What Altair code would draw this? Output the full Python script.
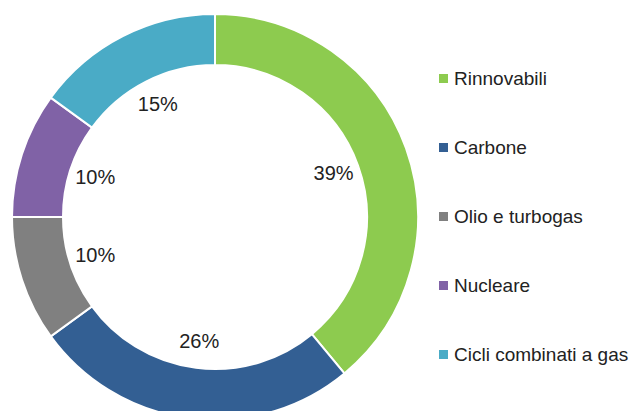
import altair as alt
import pandas as pd

categories = ["Rinnovabili", "Carbone", "Olio e turbogas", "Nucleare", "Cicli combinati a gas"]
shares = [39, 26, 10, 10, 15]
labels = ["39%", "26%", "10%", "10%", "15%"]
colors = ["#8DCB4F", "#335F93", "#808080", "#8062A6", "#4AABC6"]

df = pd.DataFrame({
    "cat": categories,
    "share": shares,
    "label": labels,
    "ord": list(range(len(categories))),
})

CX, CY = 207, 209

base = alt.Chart(df).encode(
    theta=alt.Theta("share:Q", stack=True),
    order=alt.Order("ord:Q"),
)

arc = base.mark_arc(outerRadius=203, innerRadius=152, stroke="white", strokeWidth=2).encode(
    color=alt.Color(
        "cat:N",
        scale=alt.Scale(domain=categories, range=colors),
        sort=categories,
        legend=alt.Legend(
            title=None,
            orient="none",
            legendX=426,
            legendY=61,
            symbolType="square",
            symbolSize=81,
            symbolStrokeWidth=0,
            labelFontSize=19,
            labelFont="Liberation Sans",
            labelColor="#222222",
            labelOffset=1,
            rowPadding=49,
            padding=0,
            labelLimit=300,
        ),
    ),
    x=alt.value(CX),
    y=alt.value(CY),
)

text = base.mark_text(radius=126, fontSize=20, font="Liberation Sans", color="#222222").encode(
    text="label:N",
    x=alt.value(CX),
    y=alt.value(CY),
)

chart = alt.layer(arc, text).properties(
    width=624,
    height=403,
    autosize=alt.AutoSizeParams(type="none"),
    padding=0,
).configure_view(strokeWidth=0)

chart.save("out.html", embed_options={"renderer": "svg", "actions": False})
